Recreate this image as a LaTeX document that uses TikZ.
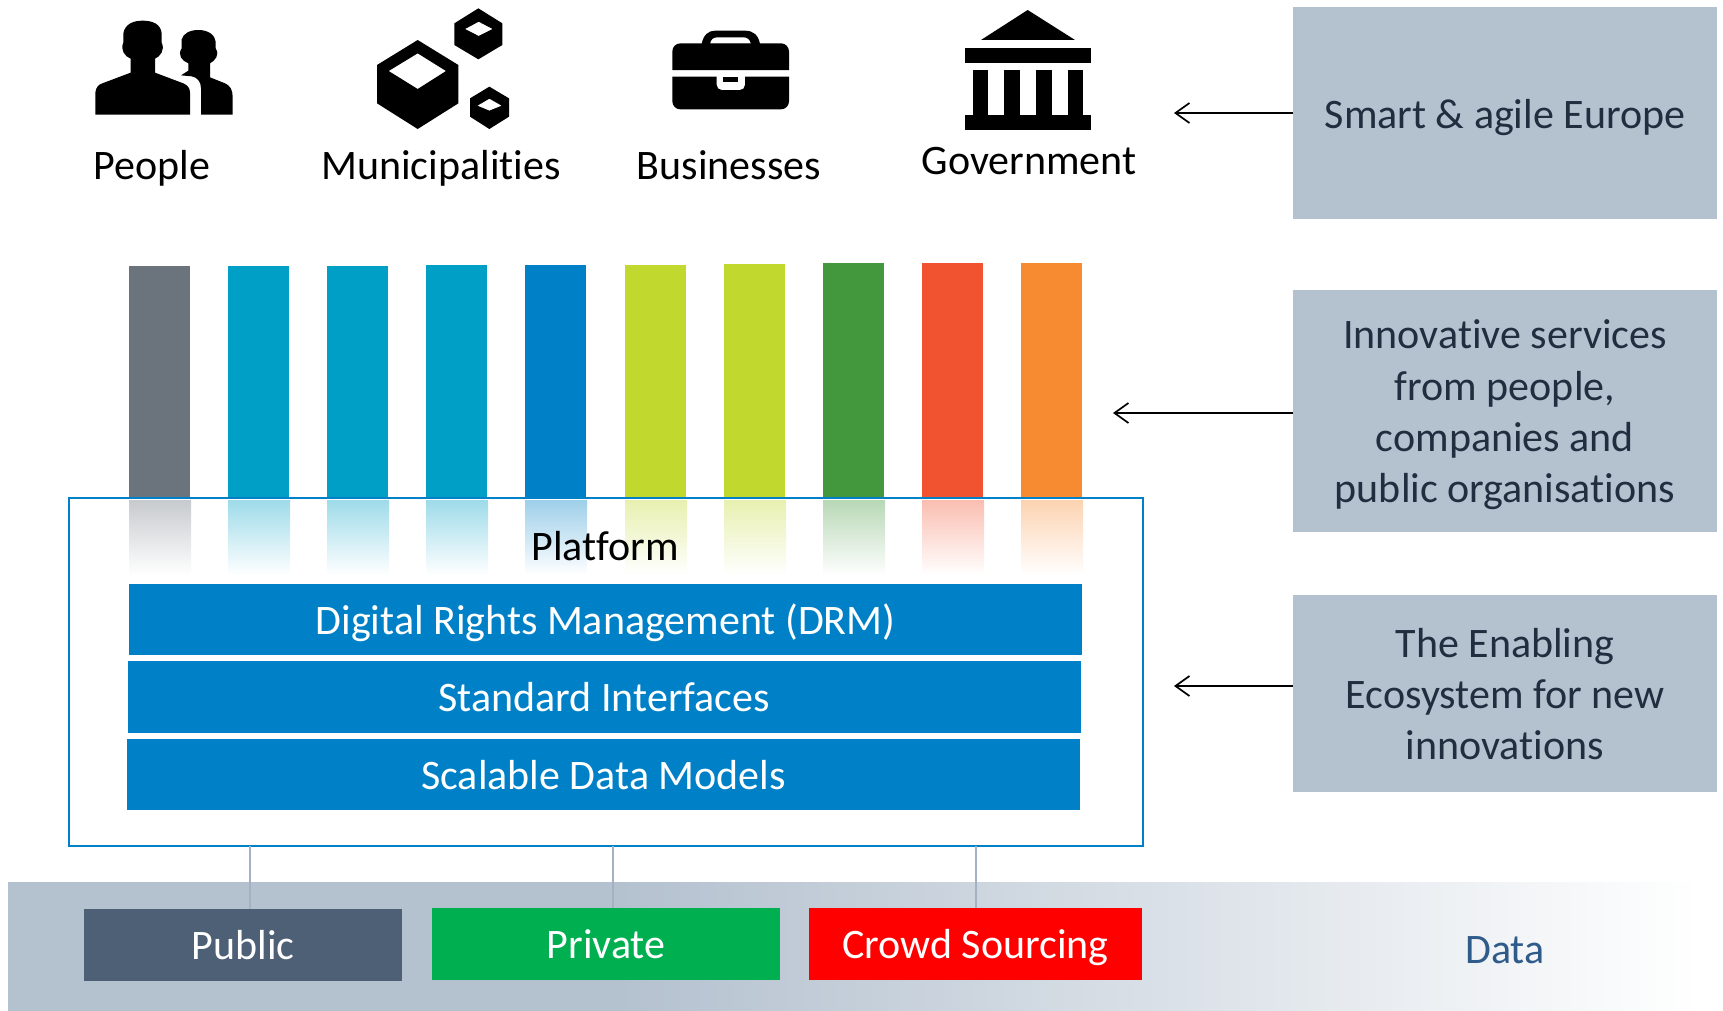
\documentclass[tikz,border=0pt]{standalone}
\usepackage{fontspec}
\setmainfont{Carlito}[Ligatures=NoCommon]
\usetikzlibrary{fit,arrows.meta}
\definecolor{slatebox}{HTML}{B4C1CF}
\definecolor{boxtext}{HTML}{1F2F40}
\definecolor{platblue}{HTML}{0080C6}
\definecolor{barGrey}{HTML}{6B747D}
\definecolor{barCyan}{HTML}{00A0C6}
\definecolor{barLime}{HTML}{C1D82F}
\definecolor{barGreen}{HTML}{43983D}
\definecolor{barRed}{HTML}{F15331}
\definecolor{barOrange}{HTML}{F78B32}
\definecolor{pubc}{HTML}{4D6075}
\definecolor{privc}{HTML}{00B050}
\definecolor{crowdc}{HTML}{FF0000}
\definecolor{conn}{HTML}{A3B1C3}
\definecolor{datatxt}{HTML}{2F5B8A}
\tikzset{
  px/.style={x=0.5pt,y=-0.5pt},
  lbl/.style={font=\fontsize{21}{25.7}\selectfont,inner sep=0pt,anchor=base},
  rbox/.style={inner sep=0pt,outer sep=0pt,fill=slatebox},
  rtxt/.style={inner sep=0pt,text=boxtext,font=\fontsize{21}{25.7}\selectfont,align=center},
  wbar/.style={inner sep=0pt,outer sep=0pt,fill=platblue,text=white,font=\fontsize{21}{25.7}\selectfont,text height=18.8pt,text depth=4pt},
  arr/.style={draw=black,line width=0.85pt,-{Straight Barb[length=7pt,width=10pt,line width=0.85pt]}},
  cn/.style={draw=conn,line width=1.2pt},
  ic/.style={fill=black,draw=none},
  vbar/.style={draw=none,inner sep=0pt,outer sep=0pt}
}
\newcommand{\vb}[4]{% x, top, colour, name
  \node[vbar,fill=#3,fit={(#1,#2)(#1+61,498)}] (#4) {};
  \shade[top color=#3!38!white,bottom color=white] (#1,500) rectangle (#1+62,575);
}
\begin{document}
\begin{tikzpicture}[px]
\useasboundingbox (0,0) rectangle (1723,1011);
% data band
\fill[slatebox] (8,882) rectangle (620,1011);
\shade[left color=slatebox,right color=white] (620,882) rectangle (1700,1011);
% bars
\vb{129}{266}{barGrey}{b1}
\vb{228}{266}{barCyan}{b2}
\vb{327}{266}{barCyan}{b3}
\vb{426}{265}{barCyan}{b4}
\vb{525}{265}{platblue}{b5}
\vb{625}{265}{barLime}{b6}
\vb{724}{264}{barLime}{b7}
\vb{823}{263}{barGreen}{b8}
\vb{922}{263}{barRed}{b9}
\vb{1021}{263}{barOrange}{b10}
% platform
\node[draw=platblue,line width=1.3pt,inner sep=0pt,outer sep=0pt,fit={(69,498)(1143,846)}] (plat) {};
\node[lbl] (platl) at (605,560) {Platform};
\node[wbar,minimum width=476.5pt,minimum height=35.75pt] (drm) at (605.5,619.25) {Digital Rights Management (DRM)};
\node[wbar,minimum width=476.75pt,minimum height=36.25pt] (std) at (604.25,696.75) {Standard Interfaces};
\node[wbar,minimum width=476.5pt,minimum height=35.75pt] (sdm) at (603.5,774.25) {Scalable Data Models};
% data sources
\node[wbar,fill=pubc,minimum width=159pt,minimum height=36pt] (pub) at (243,945) {Public};
\node[wbar,fill=privc,minimum width=174pt,minimum height=36pt] (priv) at (606,944) {Private};
\node[wbar,fill=crowdc,minimum width=166.5pt,minimum height=36pt] (crowd) at (975.5,944) {Crowd Sourcing};
\node[lbl,text=datatxt] (data) at (1505,963) {Data};
\coordinate (c1) at (250,900);
\coordinate (c2) at (613,900);
\coordinate (c3) at (976,900);
\draw[cn] (c1 |- plat.south) -- (c1 |- pub.north);
\draw[cn] (c2 |- plat.south) -- (c2 |- priv.north);
\draw[cn] (c3 |- plat.south) -- (c3 |- crowd.north);
% right boxes
\node[rbox,minimum width=212pt,minimum height=106pt] (smart) at (1505,113) {};
\node[rtxt] (smartt) at (1505,118) {Smart \& agile Europe};
\node[rbox,minimum width=212pt,minimum height=121pt] (innov) at (1505,411) {};
\node[rtxt] (innovt) at (1505,415) {Innovative services\\from people,\\companies and\\public organisations};
\node[rbox,minimum width=212pt,minimum height=98.5pt] (enab) at (1505,693.5) {};
\node[rtxt] (enabt) at (1505,694) {The Enabling\\Ecosystem for new\\innovations};
\coordinate (a1) at (1174,113);
\coordinate (a2) at (1113,413);
\coordinate (a3) at (1174,686);
\draw[arr] (smart.west |- a1) -- (a1);
\draw[arr] (innov.west |- a2) -- (a2);
\draw[arr] (enab.west |- a3) -- (a3);
% labels
\node[lbl] (lp) at (152,179) {People};
\node[lbl] (lm) at (441,179) {Municipalities};
\node[lbl] (lb) at (729,179) {Businesses};
\node[lbl] (lg) at (1029,174) {Government};
% icons: people
\begin{scope}[shift={(70,0)},x=0.16667pt,y=-0.16667pt]
\fill[ic] (76,344) -- (76,278) .. controls (78,262) and (85,254) .. (97,250) -- (182,218) -- (182,176) .. controls (165,170) and (150,150) .. (160,128) -- (160,100) .. controls (165,72) and (190,62) .. (218,62) .. controls (248,62) and (272,72) .. (275,100) -- (275,128) .. controls (286,150) and (270,170) .. (255,176) -- (255,218) -- (340,250) .. controls (352,255) and (360,264) .. (360,278) -- (360,344) -- cycle;
\fill[ic] (393,344) -- (393,265) .. controls (393,245) and (382,232) .. (365,229) -- (333,226) -- (355,212) -- (355,190) .. controls (335,182) and (322,165) .. (335,145) -- (335,118) .. controls (340,100) and (360,90) .. (385,90) .. controls (415,90) and (435,105) .. (437,125) -- (437,145) .. controls (450,165) and (435,182) .. (420,190) -- (420,232) -- (465,250) .. controls (480,256) and (488,270) .. (488,290) -- (488,344) -- cycle;
% icons: cubes
\fill[ic,even odd rule] (1043,120) -- (1165,195) -- (1165,310) -- (1043,387) -- (921,310) -- (921,195) -- cycle (1043,160) -- (1128,213) -- (1043,267) -- (956,213) -- cycle;
\fill[ic,even odd rule] (1225,25) -- (1297,70) -- (1297,135) -- (1225,178) -- (1153,135) -- (1153,70) -- cycle (1226,65) -- (1268,87) -- (1226,108) -- (1185,87) -- cycle;
\fill[ic,even odd rule] (1258,260) -- (1317,295) -- (1317,350) -- (1258,387) -- (1200,350) -- (1200,295) -- cycle (1258,296) -- (1295,317) -- (1258,332) -- (1222,317) -- cycle;
\end{scope}
\begin{scope}[shift={(620,0)},x=0.16667pt,y=-0.16667pt]
% briefcase
\fill[ic] (157,210) [rounded corners=4pt] -- (157,130) -- (507,130) [sharp corners] -- (507,210) -- cycle;
\fill[ic,even odd rule] (245,132) .. controls (250,105) and (265,92) .. (285,92) -- (375,92) .. controls (400,92) and (415,105) .. (420,132) -- cycle (270,132) .. controls (272,118) and (280,112) .. (292,112) -- (370,112) .. controls (382,112) and (390,118) .. (393,132) -- cycle;
\fill[ic] (157,230) -- (290,230) [rounded corners=2.5pt] -- (290,270) -- (375,270) [sharp corners] -- (375,230) -- (507,230) [rounded corners=4pt] -- (507,328) -- (157,328) [sharp corners] -- cycle;
\fill[ic] (308,230) rectangle (355,247);
% government
\fill[ic] (1223,30) -- (1365,120) -- (1083,120) -- cycle;
\fill[ic] (1035,143) rectangle (1413,189);
\fill[ic] (1058,210) rectangle (1105,346);
\fill[ic] (1152,210) rectangle (1200,346);
\fill[ic] (1247,210) rectangle (1295,346);
\fill[ic] (1343,210) rectangle (1390,346);
\fill[ic] (1035,345) rectangle (1413,391);
\end{scope}
\end{tikzpicture}
\end{document}
